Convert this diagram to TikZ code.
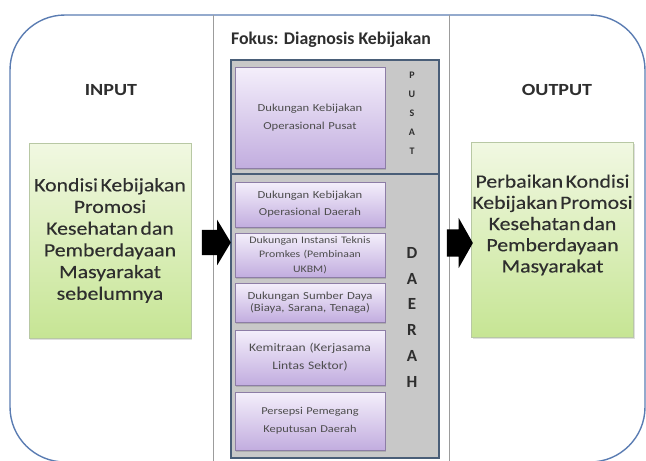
\documentclass[tikz,border=0pt]{standalone}
\usepackage{fontspec}
\setmainfont{Carlito}
\newfontfamily\widecal[FakeStretch=1.18]{Carlito}
\newfontfamily\boxcal[FakeStretch=1.16, WordSpace=0.5, FakeBold=0.2]{Carlito}
\usetikzlibrary{shapes.arrows,shadows}
\definecolor{frameblue}{HTML}{5A7CB2}
\definecolor{divgrey}{HTML}{9C9C9C}
\definecolor{panelgrey}{HTML}{C8C8C8}
\definecolor{paneledge}{HTML}{4A5E78}
\definecolor{limetop}{HTML}{F1F8E2}
\definecolor{limebot}{HTML}{C6E594}
\definecolor{limeedge}{HTML}{B8C8A4}
\definecolor{lilactop}{HTML}{F4EFFB}
\definecolor{lilacbot}{HTML}{C2ADDF}
\definecolor{lilacedge}{HTML}{8D7DA6}
\definecolor{ink}{HTML}{2E2E2E}

\tikzset{
  limebox/.style={rectangle, draw=limeedge, top color=limetop, bottom color=limebot,
    minimum width=162pt, minimum height=195pt, align=center, inner sep=0pt,
    text=ink, font=\boxcal\fontsize{18.8}{21.7}\selectfont,
    drop shadow={shadow xshift=1pt, shadow yshift=-1.5pt, opacity=0.25}},
  lilacbox/.style={rectangle, draw=lilacedge, top color=lilactop, bottom color=lilacbot,
    minimum width=150pt, text width=146pt, align=center, inner sep=0pt, text=ink!85,
    drop shadow={shadow xshift=1pt, shadow yshift=-1.5pt, opacity=0.35}},
  sidelabel/.style={text=ink, font=\widecal\bfseries\fontsize{17}{20}\selectfont},
  blockarrow/.style={single arrow, fill=black, draw=none, inner xsep=0pt,
    single arrow head indent=0pt},
  tierletter/.style={text=ink, inner sep=0pt, font=\bfseries}
}

\begin{document}
\begin{tikzpicture}[x=1pt, y=-1pt]

  \useasboundingbox (0,0) rectangle (646,461);

  % === Frame: rounded outline, middle column split off ===
  \def\frameR{55}     % corner radius
  \draw[frameblue, line width=1.4pt, rounded corners=\frameR] (10,15) rectangle (645,462);
  \draw[divgrey, line width=1pt] (213,15) -- (213,461);
  \draw[divgrey, line width=1pt] (449,15) -- (449,461);

  % === Input column ===
  \node[sidelabel] (inLabel) at (111,90) {INPUT};
  \node[limebox] (inBox) at (110,240.5)
    {Kondisi Kebijakan\\Promosi\\Kesehatan dan\\Pemberdayaan\\Masyarakat\\sebelumnya};

  % === Middle column: focus ===
  \node[text=ink, font=\bfseries\fontsize{17.8}{20}\selectfont] (focusTitle) at (331,40)
    {Fokus: Diagnosis Kebijakan};

  % Grey panel with central / regional tiers
  \draw[paneledge, line width=1.5pt, fill=panelgrey] (231,60) rectangle (439,458);
  \draw[paneledge, line width=1.5pt] (231,174) -- (439,174);

  % Policy support boxes
  \node[lilacbox, minimum height=101pt, font=\widecal\fontsize{10.7}{18}\selectfont]
    (pusatOps) at (310,117.5) {Dukungan Kebijakan\\Operasional Pusat};
  \node[lilacbox, minimum height=45pt, font=\widecal\fontsize{10.7}{17}\selectfont]
    (daerahOps) at (310,204.5) {Dukungan Kebijakan\\Operasional Daerah};
  \node[lilacbox, minimum height=44pt, font=\widecal\fontsize{10}{14.5}\selectfont]
    (promkes) at (310,255) {Dukungan Instansi Teknis\\Promkes (Pembinaan\\UKBM)};
  \node[lilacbox, minimum height=39pt, font=\widecal\fontsize{10.8}{12.5}\selectfont]
    (sumberDaya) at (310,302.5) {Dukungan Sumber Daya\\(Biaya, Sarana, Tenaga)};
  \node[lilacbox, minimum height=55pt, font=\widecal\fontsize{11.5}{18}\selectfont]
    (kemitraan) at (310,357.5) {Kemitraan (Kerjasama\\Lintas Sektor)};
  \node[lilacbox, minimum height=58pt, font=\widecal\fontsize{10.5}{18}\selectfont]
    (persepsi) at (310,421) {Persepsi Pemegang\\Keputusan Daerah};

  % Tier letters (vertical)
  \foreach \ch [count=\i] in {P,U,S,A,T}
    \node[tierletter, font=\bfseries\fontsize{10}{12}\selectfont] (pusat\i) at (412,56+19*\i) {\ch};
  \foreach \ch [count=\i] in {D,A,E,R,A,H}
    \node[tierletter, font=\bfseries\fontsize{17}{20}\selectfont] (daerah\i) at (412,227+25.8*\i) {\ch};

  % === Output column ===
  \node[sidelabel] (outLabel) at (557,90) {OUTPUT};
  \node[limebox, font=\boxcal\fontsize{18.8}{21.2}\selectfont, text depth=33pt] (outBox) at (552.5,240)
    {Perbaikan Kondisi\\Kebijakan Promosi\\Kesehatan dan\\Pemberdayaan\\Masyarakat};

  % === Block arrows between columns ===
  \node[blockarrow, minimum height=29pt, inner ysep=12.5pt, single arrow head extend=10pt,
    single arrow tip angle=118] (arrIn) at (212.5,242.5) {};
  \node[blockarrow, minimum height=26pt, inner ysep=13.5pt, single arrow head extend=11.5pt,
    single arrow tip angle=121] (arrOut) at (456,243) {};

\end{tikzpicture}
\end{document}
